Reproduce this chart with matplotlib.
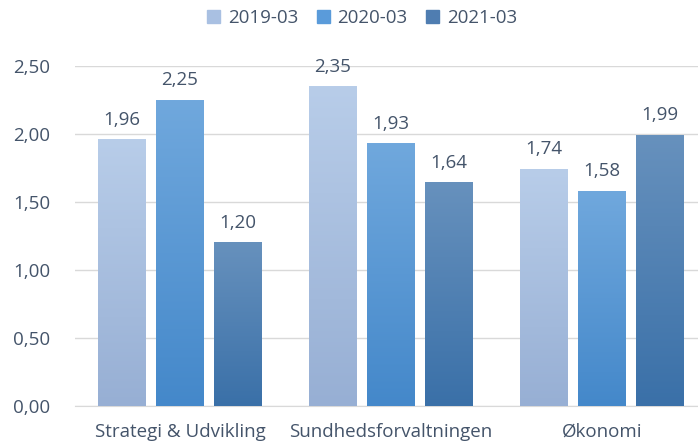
import numpy as np
import matplotlib.pyplot as plt
from matplotlib.colors import LinearSegmentedColormap
from matplotlib.patches import Patch

categories = ["Strategi & Udvikling", "Sundhedsforvaltningen", "Økonomi"]
series = ["2019-03", "2020-03", "2021-03"]
v2019 = [1.96, 2.35, 1.74]
v2020 = [2.25, 1.93, 1.58]
v2021 = [1.20, 1.64, 1.99]
yticks = [0, 0.5, 1.0, 1.5, 2.0, 2.5]

# top colour, bottom colour per series
grads = [("#B8CDE9", "#97AFD4"), ("#70A8DD", "#4488CA"), ("#6791BD", "#3A70A8")]
solid = ["#A9C0E2", "#5A9BDA", "#4F7DB1"]
txt = "#44546A"

plt.rcParams['font.family'] = ['Open Sans', 'DejaVu Sans']

fig = plt.figure(figsize=(6.98, 4.45), dpi=100)
ax = fig.add_axes([75/698, 1-406/445, 623/698, 340/445])

x = np.arange(len(categories))
w = 0.227
step = 0.275
grad = np.linspace(1, 0, 256).reshape(-1, 1)
for i, vals in enumerate([v2019, v2020, v2021]):
    cmap = LinearSegmentedColormap.from_list("g", [grads[i][1], grads[i][0]])
    for xi, v in zip(x, vals):
        left = xi + (i - 1) * step - w / 2
        ax.imshow(grad, cmap=cmap, aspect='auto', extent=[left, left + w, 0, v],
                  vmin=0, vmax=1, zorder=3)
        ax.text(left + w / 2, v + 0.08, f"{v:.2f}".replace(".", ","), ha='center',
                va='bottom', fontsize=13.5, color=txt, zorder=4)

ax.set_xlim(-0.4976, 2.455)
ax.set_ylim(0, 2.5)
ax.set_yticks(yticks)
ax.set_yticklabels([f"{t:.2f}".replace(".", ",") for t in yticks], fontsize=13.5, color=txt)
ax.set_xticks(x)
ax.set_xticklabels(categories, fontsize=13.5, color=txt)
ax.tick_params(axis='x', length=0, pad=12)
ax.tick_params(axis='y', length=0, pad=18)
ax.grid(axis='y', color="#D9D9D9", lw=1, zorder=0)
for s in ["top", "right", "left"]:
    ax.spines[s].set_visible(False)
ax.spines["bottom"].set_color("#D9D9D9")

handles = [Patch(color=c) for c in solid]
fig.legend(handles, series, loc='center', bbox_to_anchor=(362/698, 1-18/445), ncol=3,
           frameon=False, fontsize=13.5, labelcolor=txt, handlelength=0.7, handleheight=0.7,
           columnspacing=1.0, handletextpad=0.4)

fig.savefig("out.png", dpi=100)
